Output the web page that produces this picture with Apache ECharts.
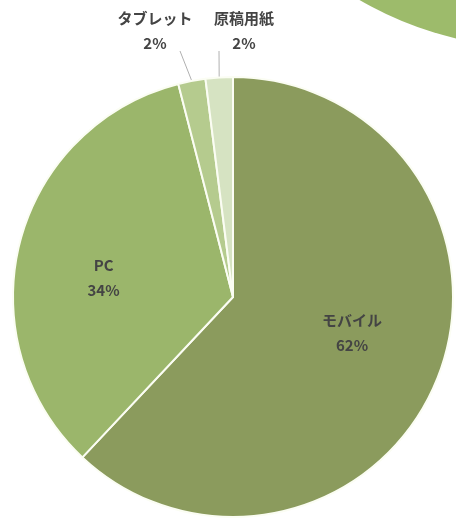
<!DOCTYPE html>
<html>
<head>
<meta charset="UTF-8">
<title>pie</title>
<script src="https://cdn.jsdelivr.net/npm/echarts@6/dist/echarts.min.js"></script>
<style>
  html, body { margin: 0; padding: 0; background: #fff; }
  #chart { width: 456px; height: 518px; }
</style>
</head>
<body>
<div id="chart"></div>
<script>
// 利用端末の割合
var names = ['モバイル', 'PC', 'タブレット', '原稿用紙'];
var values = [62, 34, 2, 2];
var colors = ['#8b9b5d', '#9bb66b', '#b5cb8e', '#d6e3c2'];

var chart = echarts.init(document.getElementById('chart'));

var pieData = [];
for (var i = 0; i < names.length; i++) {
  pieData.push({
    name: names[i],
    value: values[i],
    itemStyle: { color: colors[i] },
    label: { position: i < 2 ? 'inside' : 'outside' }
  });
}

// 上のラベル位置
var outerPos = { 2: [155, 31], 3: [244, 31] };
var lineTop = { 2: [180, 51], 3: [219, 51] };
var innerShift = { 0: [14, -6], 1: [-20, 9] };

var options = {
  animation: false,
  series: [{
    // 隣のグラフの一部
    type: 'pie',
    silent: true,
    center: [532, -293],
    radius: 340,
    label: { show: false },
    labelLine: { show: false },
    data: [{ value: 1, itemStyle: { color: '#9dbb6b' } }]
  }, {
    type: 'pie',
    center: [233, 297],
    radius: 220,
    startAngle: 90,
    clockwise: true,
    avoidLabelOverlap: false,
    itemStyle: { borderColor: '#fbfdf3', borderWidth: 2 },
    label: {
      formatter: '{b}\n{d}%',
      fontFamily: 'Noto Sans CJK JP',
      fontSize: 15,
      fontWeight: 'bold',
      lineHeight: 25,
      color: '#444444'
    },
    labelLine: {
      show: true,
      lineStyle: { color: '#b0b0b0', width: 1 }
    },
    labelLayout: function (p) {
      var k = p.dataIndex;
      if (outerPos[k]) {
        var start = p.labelLinePoints ? p.labelLinePoints[0] : lineTop[k];
        return {
          x: outerPos[k][0],
          y: outerPos[k][1],
          align: 'center',
          verticalAlign: 'middle',
          labelLinePoints: [start, lineTop[k], lineTop[k]]
        };
      }
      var s = innerShift[k];
      return s ? { dx: s[0], dy: s[1] } : {};
    },
    data: pieData
  }]
};
chart.setOption(options);
</script>
</body>
</html>
